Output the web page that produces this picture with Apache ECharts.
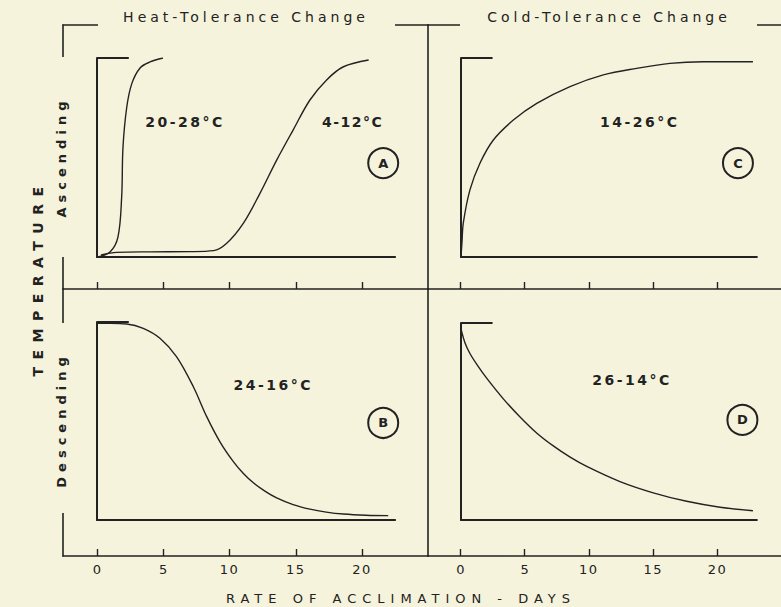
<!DOCTYPE html>
<html>
<head>
<meta charset="utf-8">
<script src="https://cdn.jsdelivr.net/npm/echarts@6/dist/echarts.min.js"></script>
<style>
html,body{margin:0;padding:0;background:#f5f3dc;}
#c{width:781px;height:607px;}
</style>
</head>
<body>
<div id="c"></div>
<script>
// ---------------- data (days, relative temperature 0-100) ----------------
const dayTicks = [0, 5, 10, 15, 20];
const flagEnd = 2.4;   // short top reference line, days

const heatAsc2028 = [[0.05,0],[0.98,2.5],[1.58,10],[1.86,30],[1.96,55],[2.24,75],[2.62,87],[3.25,95],[4.0,98],[4.98,100]];
const heatAsc0412 = [[0.3,1],[1.5,2.3],[4,2.6],[7,2.7],[8.8,3.2],[9.79,6.9],[11.04,16.9],[12.3,32],[13.56,48.7],[14.8,63.8],[16.07,78.9],[17.33,89],[18.6,95.6],[20.5,99]];
const coldAsc1426 = [[0,0],[0.08,8],[0.17,16.9],[0.68,33.7],[1.44,47.1],[2.46,58.8],[3.98,68.8],[5.76,77.2],[8.29,85.6],[10.82,91.5],[13.36,94.8],[15.89,97.3],[18.43,98.1],[22.2,98.1]];
const heatDesc2416 = [[0,99.3],[1,99.3],[2.24,99],[3.49,96.8],[4.75,91.8],[6.0,82.5],[7.27,67.3],[8.28,52.2],[9.28,39.5],[10.29,29.5],[11.05,23.5],[11.8,18.8],[12.7,14.5],[13.56,11.2],[14.8,7.8],[16.07,5.5],[17.3,4.0],[18.6,3.0],[20.3,2.4],[21.98,2.2]];
const coldDesc2614 = [[0,97],[0.3,90],[0.68,84.5],[1.2,79],[1.95,72],[3.22,61.5],[4.49,52.3],[5.75,44.2],[7.02,37.6],[8.3,31.9],[9.56,27.2],[12.09,19.5],[14.62,13.8],[17.16,9.5],[19.7,6.5],[22.2,4.7]];

const labelsA = [['20-28°C', 6.64, 67.8], ['4-12°C', 19.3, 67.8]];
const labelsC = [['14-26°C', 13.6, 67.8]];
const labelsB = [['24-16°C', 13.3, 68.2]];
const labelsD = [['26-14°C', 13.0, 71]];
const markA = ['A', 21.6, 47.2];
const markC = ['C', 21.06, 47.2];
const markB = ['B', 21.6, 49];
const markD = ['D', 21.4, 50.8];

const titleHeat = 'Heat-Tolerance Change';
const titleCold = 'Cold-Tolerance Change';
const rowAsc = 'Ascending';
const rowDesc = 'Descending';
const yTitle = 'TEMPERATURE';
const xTitle = 'RATE OF ACCLIMATION - DAYS';

// ---------------- layout / style ----------------
const BG = '#f5f3dc', INK = '#222222', FONT = 'DejaVu Sans';
const L0 = 97, LPX = 13.25, R0 = 461, RPX = 13.15, XMAX = 22.5;

const outerGrids = [
  {left: 63, top: 25, width: 365, height: 264},
  {left: 428, top: 25, width: 361, height: 264},
  {left: 63, top: 289, width: 365, height: 267},
  {left: 428, top: 289, width: 361, height: 267}
];
const innerGrids = [
  {left: L0, top: 58, width: XMAX * LPX, height: 199},
  {left: R0, top: 58, width: XMAX * RPX, height: 199},
  {left: L0, top: 322, width: XMAX * LPX, height: 198},
  {left: R0, top: 323, width: XMAX * RPX, height: 197}
];
const lrange = [(63 - L0) / LPX, (428 - L0) / LPX];
const rrange = [(428 - R0) / RPX, (789 - R0) / RPX];

function frameLine() { return {show: true, onZero: false, lineStyle: {color: INK, width: 1.6}}; }

function frameX(gi, pos, range, withTicks, withLabels) {
  return {
    type: 'value', gridIndex: gi, position: pos, min: range[0], max: range[1],
    axisLine: frameLine(), splitLine: {show: false},
    axisTick: withTicks ? {show: true, inside: true, length: 7, lineStyle: {color: INK, width: 1.4}, customValues: dayTicks} : {show: false},
    axisLabel: withLabels ? {show: true, customValues: dayTicks, color: INK, fontFamily: FONT, fontSize: 13, margin: 7} : {show: false}
  };
}
function frameY(gi) {
  return {
    type: 'value', gridIndex: gi, min: 0, max: 1, position: 'left',
    axisLine: frameLine(), axisTick: {show: false}, axisLabel: {show: false}, splitLine: {show: false}
  };
}
function innerAxisLine() { return {show: true, onZero: false, lineStyle: {color: INK, width: 2}}; }
function innerX(gi) {
  return {type: 'value', gridIndex: gi, min: 0, max: XMAX, axisLine: innerAxisLine(),
    axisTick: {show: false}, axisLabel: {show: false}, splitLine: {show: false}};
}
function innerY(gi) {
  return {type: 'value', gridIndex: gi, min: 0, max: 100, axisLine: innerAxisLine(),
    axisTick: {show: false}, axisLabel: {show: false}, splitLine: {show: false}};
}

const xAxis = [
  frameX(0, 'bottom', lrange, true, false),
  frameX(0, 'top', lrange, false, false),
  frameX(1, 'bottom', rrange, true, false),
  frameX(1, 'top', rrange, false, false),
  frameX(2, 'bottom', lrange, true, true),
  frameX(3, 'bottom', rrange, true, true),
  innerX(4), innerX(5), innerX(6), innerX(7)
];
const yAxis = [
  frameY(0), frameY(1), frameY(2), frameY(3),
  innerY(4), innerY(5), innerY(6), innerY(7)
];

const series = [];
function addPanel(p, curves, labels, mark) {
  const xi = 6 + p, yi = 4 + p;
  curves.forEach(c => series.push({
    type: 'line', xAxisIndex: xi, yAxisIndex: yi, data: c, smooth: 0.35,
    showSymbol: false, symbol: 'none', lineStyle: {color: INK, width: 1.4}
  }));
  series.push({
    type: 'line', xAxisIndex: xi, yAxisIndex: yi, data: [[0, 100], [flagEnd, 100]],
    showSymbol: false, symbol: 'none', lineStyle: {color: INK, width: 2}
  });
  series.push({
    type: 'scatter', xAxisIndex: xi, yAxisIndex: yi, symbolSize: 1,
    itemStyle: {color: 'rgba(0,0,0,0)', opacity: 1},
    data: labels.map(l => ({name: l[0], value: [l[1], l[2]]})),
    label: {show: true, position: 'inside', formatter: '{b}', color: INK, opacity: 1, fontFamily: FONT, fontSize: 14, fontWeight: 'bold'}
  });
  series.push({
    type: 'scatter', xAxisIndex: xi, yAxisIndex: yi, symbol: 'circle', symbolSize: 30,
    itemStyle: {color: 'rgba(0,0,0,0)', borderColor: INK, borderWidth: 2, opacity: 1},
    data: [{name: mark[0], value: [mark[1], mark[2]]}],
    label: {show: true, position: 'inside', formatter: '{b}', color: INK, opacity: 1, fontFamily: FONT, fontSize: 13, fontWeight: 'bold'}
  });
}
addPanel(0, [heatAsc2028, heatAsc0412], labelsA, markA);
addPanel(1, [coldAsc1426], labelsC, markC);
addPanel(2, [heatDesc2416], labelsB, markB);
addPanel(3, [coldDesc2614], labelsD, markD);

function gapRect(x, y, w, h) {
  return {type: 'rect', z: 100, silent: true, shape: {x: x, y: y, width: w, height: h}, style: {fill: BG}};
}
function label(text, x, y, rot, size, weight) {
  return {type: 'text', z: 101, x: x, y: y, rotation: rot, silent: true,
    style: {text: text, fill: INK, fontFamily: FONT, fontSize: size, fontWeight: weight, align: 'center', verticalAlign: 'middle'}};
}

const option = {
  backgroundColor: BG,
  animation: false,
  grid: outerGrids.concat(innerGrids),
  xAxis: xAxis,
  yAxis: yAxis,
  series: series,
  graphic: [
    gapRect(98, 19, 297, 12),
    gapRect(460, 19, 297, 12),
    gapRect(57, 57, 12, 200),
    gapRect(57, 323, 12, 190),
    label(titleHeat, 246, 17, 0, 14, 'normal'),
    label(titleCold, 609, 17, 0, 14, 'normal'),
    label(rowAsc, 61, 157, Math.PI / 2, 13, 'bold'),
    label(rowDesc, 61, 420, Math.PI / 2, 13, 'bold'),
    label(yTitle, 38, 278, Math.PI / 2, 14, 'bold'),
    label(xTitle, 401, 598, 0, 13, 'normal')
  ]
};

const el = document.getElementById('c');
const chart = echarts.init(el, null, {renderer: 'svg'});
chart.setOption(option);

// wide lettering of the original drawing
const spacing = {};
spacing[titleHeat] = 4; spacing[titleCold] = 4;
spacing[rowAsc] = 5; spacing[rowDesc] = 5;
spacing[yTitle] = 7.5; spacing[xTitle] = 6;
['20-28°C', '14-26°C', '24-16°C', '26-14°C'].forEach(t => spacing[t] = 2.5);
spacing['4-12°C'] = 1.5;
['10', '15', '20'].forEach(t => spacing[t] = 1.5);
function applySpacing() {
  el.querySelectorAll('text').forEach(t => {
    const s = spacing[t.textContent.trim()];
    if (s != null) t.style.letterSpacing = s + 'px';
  });
}
chart.on('finished', applySpacing);
applySpacing();
setTimeout(applySpacing, 50);
</script>
</body>
</html>
